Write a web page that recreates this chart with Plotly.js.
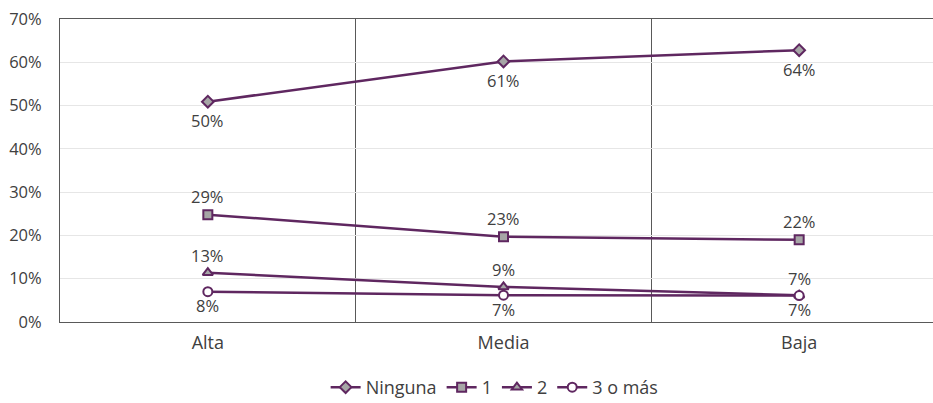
<!DOCTYPE html>
<html>
<head>
<meta charset="utf-8">
<script src="https://cdn.plot.ly/plotly-3.0.1.min.js"></script>
<style>
html,body{margin:0;padding:0;overflow:hidden;background:#fff;}
#chart{width:947px;height:403px;}
</style>
</head>
<body>
<div id="chart"></div>
<script>
var categories = ['Alta', 'Media', 'Baja'];
var seriesNames = ['Ninguna', '1', '2', '3 o más'];
var valNinguna = [0.509, 0.602, 0.628];
var val1 = [0.248, 0.197, 0.190];
var val2 = [0.114, 0.081, 0.062];
var val3 = [0.070, 0.062, 0.061];
var lblNinguna = ['50%', '61%', '64%'];
var lbl1 = ['29%', '23%', '22%'];
var lbl2 = ['13%', '9%', '7%'];
var lbl3 = ['8%', '7%', '7%'];

var purple = '#5f2760';
var gray = '#a6a6a6';
var textColor = '#404040';
var font = 'Open Sans, sans-serif';

function mk(name, y, symbol, fill) {
  return {
    type: 'scatter', mode: 'lines+markers', name: name,
    x: categories, y: y,
    line: {color: purple, width: 2.5},
    marker: {symbol: symbol, size: 9, color: fill, line: {color: purple, width: 2}},
    cliponaxis: false, hoverinfo: 'skip'
  };
}

var data = [
  mk(seriesNames[0], valNinguna, 'diamond', gray),
  mk(seriesNames[1], val1, 'square', gray),
  mk(seriesNames[2], val2, 'triangle-up', gray),
  mk(seriesNames[3], val3, 'circle', '#ffffff')
];

var labelSets = [
  {y: valNinguna, t: lblNinguna, shift: -19},
  {y: val1, t: lbl1, shift: 18},
  {y: val2, t: lbl2, shift: 17},
  {y: val3, t: lbl3, shift: -14}
];
var annotations = [];
labelSets.forEach(function (s) {
  categories.forEach(function (c, i) {
    annotations.push({
      x: c, y: s.y[i], xref: 'x', yref: 'y', text: s.t[i], showarrow: false,
      yshift: s.shift, font: {family: font, size: 16.5, color: textColor}
    });
  });
});

var layout = {
  width: 947, height: 403,
  margin: {l: 60, r: 0, t: 19, b: 81, autoexpand: false},
  paper_bgcolor: '#fff', plot_bgcolor: '#fff',
  font: {family: font, color: textColor, size: 16},
  showlegend: true,
  annotations: annotations,
  legend: {orientation: 'h', x: 0.49, xanchor: 'center', y: -0.216, yanchor: 'middle',
    font: {family: font, size: 18, color: textColor}, traceorder: 'normal'},
  xaxis: {
    type: 'category', range: [-0.5, 2.5], tickson: 'boundaries',
    showgrid: true, gridcolor: '#595959', gridwidth: 1,
    showline: true, linecolor: '#595959', linewidth: 1, mirror: true,
    ticks: '', ticklabelstandoff: 4, tickfont: {family: font, size: 18, color: textColor},
    fixedrange: true
  },
  yaxis: {
    range: [0, 0.7], dtick: 0.1, tickformat: '.0%',
    showgrid: true, gridcolor: '#e6e6e6', gridwidth: 1,
    showline: true, linecolor: '#595959', linewidth: 1,
    zeroline: false, ticks: '', ticklabelstandoff: 14,
    tickfont: {family: font, size: 16.5, color: textColor},
    fixedrange: true
  }
};

Plotly.newPlot('chart', data, layout, {displayModeBar: false, staticPlot: true});
</script>
</body>
</html>
